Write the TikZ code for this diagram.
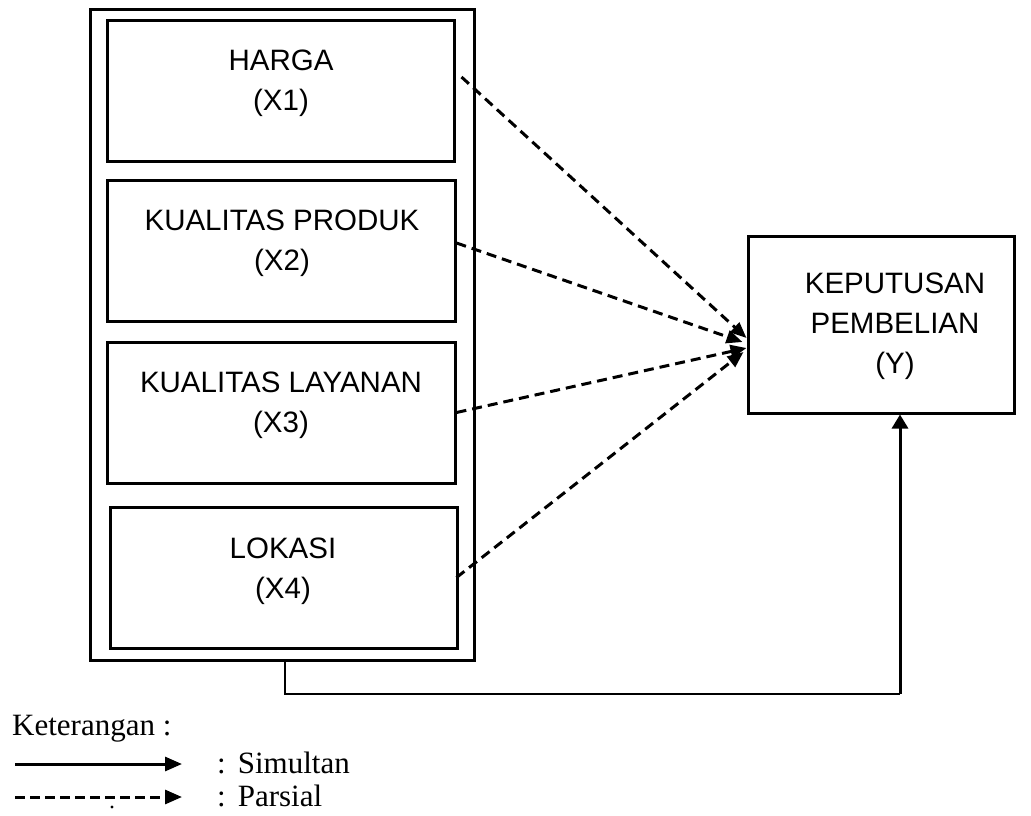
\documentclass[tikz,border=0pt]{standalone}
\usepackage{fontspec}
\setmainfont{Liberation Serif}
\newfontfamily\arialf{Liberation Sans}
\usetikzlibrary{arrows.meta,calc}
\tikzset{
  box/.style={draw, line width=3pt, inner sep=0pt},
  lbl/.style={font=\arialf\fontsize{29.5}{35}\selectfont, anchor=base, inner sep=0pt},
  leg/.style={font=\fontsize{31}{36}\selectfont, anchor=base west, inner sep=0pt},
  dasharrow/.style={line width=3pt, dash pattern=on 10pt off 6pt, -{Triangle[length=16pt,width=13pt]}},
  solidarrow/.style={line width=3pt, -{Triangle[length=14pt,width=16pt]}},
  thinline/.style={line width=2pt},
}
\begin{document}
\begin{tikzpicture}[x=1pt,y=-1pt]
\useasboundingbox (0,0) rectangle (1031,815);

% outer frame
\node[box, minimum width=384pt, minimum height=651pt] (outer) at (282,334.5) {};

% inner boxes
\node[box, minimum width=347pt, minimum height=141pt] (b1) at (280.5,90.5) {};
\node[box, minimum width=348pt, minimum height=141pt] (b2) at (281,250.5) {};
\node[box, minimum width=348pt, minimum height=141pt] (b3) at (281,412.5) {};
\node[box, minimum width=347pt, minimum height=141pt] (b4) at (283.5,577.5) {};

% texts in boxes
\node[lbl] (b1a) at (281,70) {HARGA};
\node[lbl] (b1b) at (281,110) {(X1)};
\node[lbl] (b2a) at (282,230) {KUALITAS PRODUK};
\node[lbl] (b2b) at (282,270) {(X2)};
\node[lbl] (b3a) at (281,392) {KUALITAS LAYANAN};
\node[lbl] (b3b) at (281,432) {(X3)};
\node[lbl] (b4a) at (283,558) {LOKASI};
\node[lbl] (b4b) at (283,598) {(X4)};

% dependent variable
\node[box, minimum width=266pt, minimum height=177pt] (Y) at (881,324.5) {};
\node[lbl] (ya) at (895,293) {KEPUTUSAN};
\node[lbl] (yb) at (895,333) {PEMBELIAN};
\node[lbl] (yc) at (895,373) {(Y)};

% tips on Y
\coordinate (t1) at ($(Y.west)+(0,13.5)$);
\coordinate (t2) at ($(Y.west)+(-4,17.5)$);
\coordinate (t3) at ($(Y.west)+(0,23.5)$);
\coordinate (t4) at ($(Y.west)+(-3,27.5)$);

% partial (dashed) arrows
\draw[dasharrow] ($(b1.east)+(6,-13.5)$) -- (t1);
\draw[dasharrow] ($(b2.east)+(0,-7.5)$) -- (t2);
\draw[dasharrow] (b3.east) -- (t3);
\draw[dasharrow] ($(b4.east)+(-2,0)$) -- (t4);

% simultaneous connector
\coordinate (c1) at ($(outer.south)+(3,32)$);
\coordinate (c2) at ($(Y.south)+(19,279)$);
\draw[thinline] ($(outer.south)+(3,0)$) -- (c1) -- (c2);
\draw[solidarrow] (c2) -- ($(Y.south)+(19,0)$);

% legend
\node[leg] (ket) at (12,735) {Keterangan :};
\coordinate (la) at (15,764);
\coordinate (lb) at (182,764);
\draw[solidarrow, -{Triangle[length=17pt,width=14pt]}] (la) -- (lb);
\node[leg] (sim) at (217,773) {:\hspace{12pt}Simultan};
\coordinate (lc) at (15,797);
\coordinate (ld) at (182,797);
\draw[line width=3pt, dash pattern=on 10pt off 5pt, -{Triangle[length=17pt,width=14pt]}] (lc) -- (ld);
\fill (112,807) circle (1.7pt);
\node[leg] (par) at (217,806) {:\hspace{12pt}Parsial};
\end{tikzpicture}
\end{document}
